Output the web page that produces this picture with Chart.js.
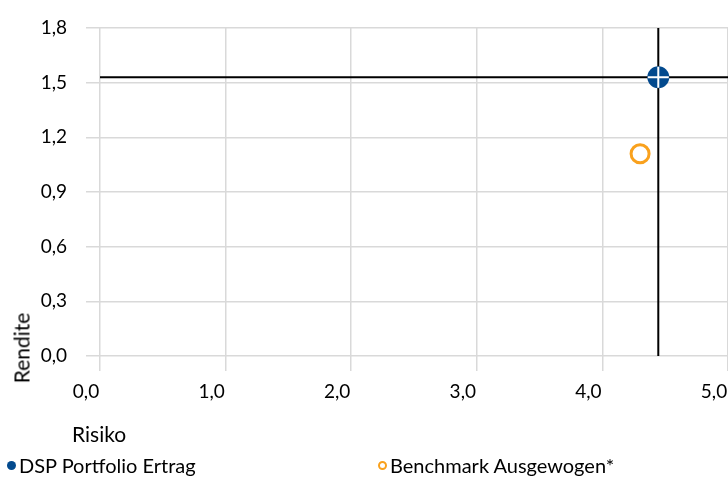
<!DOCTYPE html>
<html>
<head>
<meta charset="utf-8">
<script src="https://cdn.jsdelivr.net/npm/chart.js@4.4.1/dist/chart.umd.min.js"></script>
<style>
    html, body { margin: 0; padding: 0; background: #fff; }
    #wrap { position: relative; width: 728px; height: 477px; overflow: hidden; font-family: Lato, sans-serif; color: #000; }
    #riskChart { position: absolute; left: 0; top: 0; }
    .title { position: absolute; font-size: 21px; white-space: nowrap; }
    #yTitle { left: 21px; top: 348px; transform: translate(-50%, -50%) rotate(-90deg); }
    #xTitle { left: 72px; top: 421px; }
    .legend-item { position: absolute; top: 453px; font-size: 20px; white-space: nowrap; }
    .legend-item span.mark { display: inline-block; box-sizing: border-box; border-radius: 50%; vertical-align: middle; margin-right: 3px; position: relative; top: -2px; }
</style>
</head>
<body>
<div id="wrap">
    <canvas id="riskChart" width="728" height="477"></canvas>
    <div class="title" id="yTitle">Rendite</div>
    <div class="title" id="xTitle">Risiko</div>
    <div id="legend"></div>
</div>
<script>
// values
const seriesNames = ['DSP Portfolio Ertrag', 'Benchmark Ausgewogen*'];
const risiko = [4.445, 4.30];
const rendite = [1.53, 1.11];
const xTicks = [0, 1, 2, 3, 4, 5];
const yTicks = [0, 0.3, 0.6, 0.9, 1.2, 1.5, 1.8];

const blue = '#034A8E';
const orange = '#F9A11D';
const grid = '#D9D9D9';

const fmt = v => Number(v).toFixed(1).replace('.', ',');

const xMin = xTicks[0], xMax = xTicks[xTicks.length - 1];
const yMin = yTicks[0], yMax = yTicks[yTicks.length - 1];

// crosshair through the portfolio point
const hLine = [{ x: xMin, y: rendite[0] }, { x: xMax, y: rendite[0] }];
const vLine = [{ x: risiko[0], y: yMin }, { x: risiko[0], y: yMax }];

const ctx = document.getElementById('riskChart').getContext('2d');

const chart = new Chart(ctx, {
    type: 'scatter',
    data: {
        datasets: [
            {
                label: seriesNames[0],
                data: [{ x: risiko[0], y: rendite[0] }],
                pointRadius: 11,
                pointBorderWidth: 0,
                pointBackgroundColor: blue,
                borderColor: blue,
                order: 2
            },
            {
                label: 'cross',
                data: [{ x: risiko[0], y: rendite[0] }],
                pointStyle: 'cross',
                pointRadius: 10.5,
                pointBorderWidth: 2,
                pointBorderColor: '#fff',
                order: 1
            },
            {
                label: seriesNames[1],
                data: [{ x: risiko[1], y: rendite[1] }],
                pointRadius: 9,
                pointBorderWidth: 3,
                pointBorderColor: orange,
                pointBackgroundColor: 'rgba(255,255,255,0)',
                borderColor: orange,
                order: 1
            },
            {
                label: 'h',
                data: hLine,
                showLine: true,
                borderColor: '#000',
                borderWidth: 2,
                pointRadius: 0,
                order: 3
            },
            {
                label: 'v',
                data: vLine,
                showLine: true,
                borderColor: '#000',
                borderWidth: 2,
                pointRadius: 0,
                order: 3
            }
        ]
    },
    options: {
        responsive: false,
        animation: false,
        layout: { autoPadding: false, padding: { top: 28, left: 0, right: 0, bottom: 0 } },
        plugins: {
            legend: { display: false },
            tooltip: { enabled: false }
        },
        scales: {
            x: {
                type: 'linear',
                min: xMin,
                max: xMax,
                afterBuildTicks: s => { s.ticks = xTicks.map(v => ({ value: v })); },
                afterFit: s => { s.height = 121; s.paddingLeft = 0; s.paddingRight = 0; },
                border: { display: false },
                grid: { color: grid, lineWidth: 1.5, tickLength: 15, tickColor: grid },
                ticks: {
                    callback: v => fmt(v),
                    labelOffset: -14,
                    padding: 9,
                    color: '#000',
                    font: { family: 'Lato', size: 19 }
                }
            },
            y: {
                type: 'linear',
                min: yMin,
                max: yMax,
                afterBuildTicks: s => { s.ticks = yTicks.map(v => ({ value: v })); },
                afterFit: s => { s.width = 100; s.paddingTop = 0; s.paddingBottom = 0; },
                border: { display: false },
                grid: { color: grid, lineWidth: 1.5, tickLength: 14, tickColor: grid },
                ticks: {
                    callback: v => fmt(v),
                    padding: 19,
                    color: '#000',
                    font: { family: 'Lato', size: 19 }
                }
            }
        }
    }
});

// legend built from the two named series
const legendPos = [7, 378];
const legend = document.getElementById('legend');
[0, 2].forEach((di, i) => {
    const ds = chart.data.datasets[di];
    const item = document.createElement('div');
    item.className = 'legend-item';
    item.style.left = legendPos[i] + 'px';
    const mark = document.createElement('span');
    mark.className = 'mark';
    mark.style.width = '9px';
    mark.style.height = '9px';
    if (i === 0) {
        mark.style.background = blue;
    } else {
        mark.style.border = '2.5px solid ' + orange;
    }
    item.appendChild(mark);
    item.appendChild(document.createTextNode(ds.label));
    legend.appendChild(item);
});
</script>
</body>
</html>
